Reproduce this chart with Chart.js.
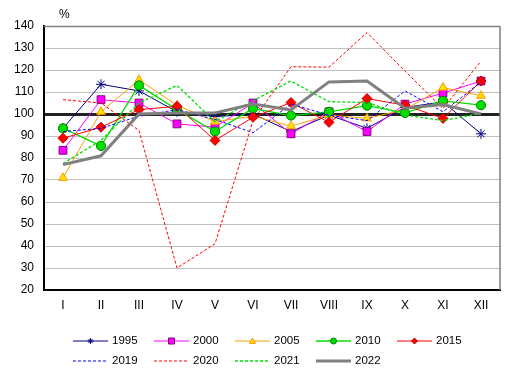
<!DOCTYPE html>
<html>
<head>
<meta charset="utf-8">
<script src="https://cdn.jsdelivr.net/npm/chart.js@4/dist/chart.umd.min.js"></script>
<style>
html,body{margin:0;padding:0;background:#fff;}
canvas{display:block;}
</style>
</head>
<body>
<canvas id="c" width="515" height="378"></canvas>
<script>
const months = ['I','II','III','IV','V','VI','VII','VIII','IX','X','XI','XII'];
const yTicks = [20,30,40,50,60,70,80,90,100,110,120,130,140];
const unitLabel = '%';
const seriesNames = ['1995','2000','2005','2010','2015','2019','2020','2021','2022'];
const v1995 = [93.5, 113.5, 110.5, 101, 98.8, 100, 92, 99.5, 93.5, 103, 105.5, 91];
const v2000 = [83.5, 106.5, 105, 95.5, 94, 105, 91, 101, 92, 104.5, 109.5, 115];
const v2005 = [71, 101, 115.5, 104, 96.5, 99, 94.5, 99.5, 98, 102, 112, 108.3];
const v2010 = [93.5, 85.5, 113, 102, 92, 102.5, 99.3, 101, 103.8, 100.5, 106, 104];
const v2015 = [89, 94, 102, 103.5, 88, 98.5, 105.2, 96.2, 107, 104, 98, 115];
const v2019 = [92, 93.5, 99, 102, 97.5, 91.5, 104.5, 99.5, 97, 110.5, 101, 114.5];
const v2020 = [106.5, 105, 92.5, 30, 41, 97, 121.5, 121.3, 137, 119.5, 102.5, 124];
const v2021 = [77.5, 88, 105, 113, 96.5, 106, 115, 105.6, 105.2, 99.5, 97, 100.3];
const v2022 = [77, 81, 100, 100.5, 100.5, 104.5, 101.8, 114.6, 115, 102.6, 104.3, 100];

const styles = [
  {c:'#000080', w:1, dash:[], ps:'star', r:5, bg:'#000080', bc:'#000080', bw:1},
  {c:'#FF00FF', w:1, dash:[], ps:'rect', r:5.5, bg:'#FF00FF', bc:'#800080', bw:1},
  {c:'#FFA000', w:1, dash:[], ps:'triangle', r:5, bg:'#FFE000', bc:'#FF9900', bw:1},
  {c:'#00E000', w:1.3, dash:[], ps:'circle', r:4.6, bg:'#00E000', bc:'#008000', bw:1},
  {c:'#FF0000', w:1, dash:[], ps:'rectRot', r:5, bg:'#FF0000', bc:'#C00000', bw:1},
  {c:'#0000FF', w:1, dash:[3,2], ps:false, r:0},
  {c:'#FF0000', w:1, dash:[3,2], ps:false, r:0},
  {c:'#00E000', w:1.3, dash:[3,2], ps:false, r:0},
  {c:'#808080', w:3, dash:[], ps:false, r:0}
];
const values = [v1995,v2000,v2005,v2010,v2015,v2019,v2020,v2021,v2022];

const datasets = values.map((d,i)=>{
  const s = styles[i];
  return {
    label: seriesNames[i],
    data: d,
    borderColor: s.c,
    borderWidth: s.w,
    borderDash: s.dash,
    pointStyle: s.ps,
    pointRadius: s.r,
    pointBackgroundColor: s.bg || s.c,
    pointBorderColor: s.bc || s.c,
    pointBorderWidth: s.bw || 1,
    tension: 0,
    fill: false,
    order: 20 - i
  };
});

function drawMarker(ctx, s, x, y, r){
  if(!s.ps) return;
  ctx.save();
  ctx.setLineDash([]);
  ctx.fillStyle = s.bg; ctx.strokeStyle = s.bc; ctx.lineWidth = 1;
  ctx.beginPath();
  if(s.ps==='star'){
    for(let a=0;a<4;a++){const an=a*Math.PI/4;ctx.moveTo(x-Math.cos(an)*r,y-Math.sin(an)*r);ctx.lineTo(x+Math.cos(an)*r,y+Math.sin(an)*r);}
    ctx.stroke();
  } else if(s.ps==='rect'){
    ctx.rect(x-r,y-r,2*r,2*r); ctx.fill(); ctx.stroke();
  } else if(s.ps==='triangle'){
    ctx.moveTo(x,y-r);ctx.lineTo(x+r,y+r*0.8);ctx.lineTo(x-r,y+r*0.8);ctx.closePath();ctx.fill();ctx.stroke();
  } else if(s.ps==='circle'){
    ctx.arc(x,y,r,0,Math.PI*2);ctx.fill();ctx.stroke();
  } else if(s.ps==='rectRot'){
    ctx.moveTo(x,y-r);ctx.lineTo(x+r,y);ctx.lineTo(x,y+r);ctx.lineTo(x-r,y);ctx.closePath();ctx.fill();ctx.stroke();
  }
  ctx.restore();
}

const extras = {
  id:'extras',
  beforeDatasetsDraw(chart){
    const ctx = chart.ctx, a = chart.chartArea;
    ctx.save();
    ctx.strokeStyle = '#808080'; ctx.lineWidth = 1.5;
    ctx.beginPath();
    ctx.moveTo(a.left, a.top+0.5); ctx.lineTo(a.right, a.top+0.5); ctx.lineTo(a.right, a.bottom);
    ctx.stroke();
    ctx.restore();
  },
  afterDraw(chart){
    const ctx = chart.ctx;
    ctx.save();
    ctx.fillStyle = '#000';
    ctx.font = '12px "Liberation Sans", Arial, sans-serif';
    ctx.textAlign = 'left'; ctx.textBaseline = 'middle';
    ctx.fillText(unitLabel, 59, 15);
    ctx.font = '11.5px "Liberation Sans", Arial, sans-serif';
    styles.forEach((s,i)=>{
      const col = i%5, row = Math.floor(i/5);
      const x0 = 73 + col*81, y = 341 + row*20;
      ctx.save();
      ctx.strokeStyle = s.c; ctx.lineWidth = s.w; ctx.setLineDash(s.dash);
      ctx.beginPath(); ctx.moveTo(x0, y); ctx.lineTo(x0+35, y); ctx.stroke();
      ctx.restore();
      drawMarker(ctx, s, x0+17.5, y, 3);
      ctx.fillStyle = '#000';
      ctx.fillText(seriesNames[i], x0+39, y);
    });
    ctx.restore();
  }
};

new Chart(document.getElementById('c'), {
  type:'line',
  data:{labels: months, datasets},
  options:{
    responsive:false,
    animation:false,
    layout:{padding:{top:26,right:15,bottom:58,left:0}},
    plugins:{legend:{display:false}, tooltip:{enabled:false}},
    scales:{
      x:{
        offset:true,
        grid:{display:false, drawTicks:false},
        border:{display:true, color:'#000', width:2},
        ticks:{color:'#000', font:{family:'"Liberation Sans", Arial, sans-serif', size:12}, padding:8, maxRotation:0, autoSkip:false},
        afterFit(s){ s.height = 30; }
      },
      y:{
        min:20, max:140,
        afterBuildTicks(s){ s.ticks = yTicks.map(v=>({value:v})); },
        grid:{
          drawTicks:false,
          color:(c)=> c.tick && c.tick.value===100 ? '#222222' : '#C0C0C0',
          lineWidth:(c)=> c.tick && c.tick.value===100 ? 3 : 1
        },
        border:{display:true, color:'#000', width:2},
        ticks:{color:'#000', font:{family:'"Liberation Sans", Arial, sans-serif', size:12}, padding:10},
        afterFit(s){ s.width = 44; }
      }
    }
  },
  plugins:[extras]
});
</script>
</body>
</html>
